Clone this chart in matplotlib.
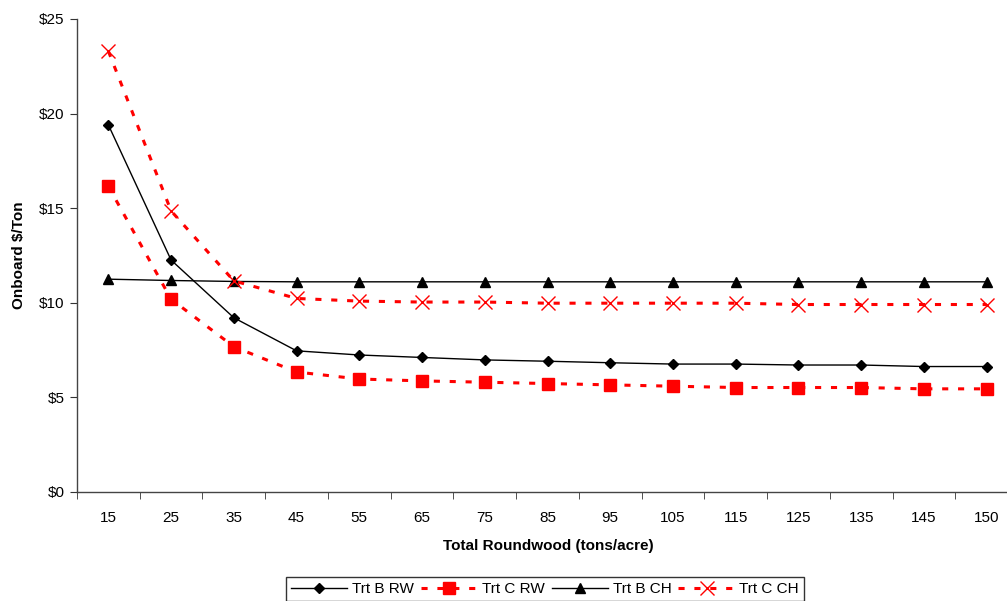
import matplotlib
matplotlib.use("Agg")
import matplotlib.pyplot as plt
import numpy as np

plt.rcParams['font.family'] = ['Liberation Sans', 'DejaVu Sans']

categories = ["15", "25", "35", "45", "55", "65", "75", "85", "95", "105", "115", "125", "135", "145", "150"]
trt_b_rw = [19.4, 12.25, 9.2, 7.45, 7.23, 7.1, 6.97, 6.9, 6.82, 6.75, 6.75, 6.7, 6.7, 6.62, 6.62]
trt_c_rw = [16.15, 10.18, 7.67, 6.33, 5.96, 5.86, 5.79, 5.72, 5.65, 5.58, 5.51, 5.51, 5.51, 5.44, 5.44]
trt_b_ch = [11.24, 11.17, 11.12, 11.1, 11.1, 11.1, 11.1, 11.1, 11.1, 11.1, 11.1, 11.1, 11.1, 11.1, 11.1]
trt_c_ch = [23.3, 14.85, 11.15, 10.22, 10.08, 10.03, 10.03, 9.97, 9.97, 9.97, 9.97, 9.9, 9.9, 9.9, 9.9]
y_ticks = [0, 5, 10, 15, 20, 25]
y_ticklabels = ["$0", "$5", "$10", "$15", "$20", "$25"]

fig = plt.figure(figsize=(10.07, 6.01), dpi=100)
ax = fig.add_axes([77/1007, 1-491.7/601, (1018-77)/1007, (491.7-19)/601])

x = np.arange(len(categories))
red = '#FF0000'
dash = (0, (2.0, 3.2))

l1, = ax.plot(x, trt_b_rw, color='black', lw=1.0, marker='D', ms=5.5, mfc='black', mec='black', label='Trt B RW')
l2, = ax.plot(x, trt_c_rw, color=red, lw=2.2, ls=dash, marker='s', ms=9, mfc=red, mec=red, label='Trt C RW')
l3, = ax.plot(x, trt_b_ch, color='black', lw=1.0, marker='^', ms=7, mfc='black', mec='black', label='Trt B CH')
l4, = ax.plot(x, trt_c_ch, color=red, lw=2.2, ls=dash, marker='x', ms=10, mew=1.0, mfc=red, mec=red, label='Trt C CH')

ax.set_xlim(-0.5, len(categories) - 0.5)
ax.set_ylim(0, 25)
ax.set_yticks(y_ticks)
ax.set_yticklabels(y_ticklabels, fontsize=11)
ax.set_xticks(x)
ax.set_xticklabels(categories, fontsize=11)
ax.set_xticks(np.arange(len(categories) + 1) - 0.5, minor=True)
ax.tick_params(axis='x', which='major', length=0, pad=14)
ax.tick_params(axis='x', which='minor', length=5, direction='out', color='#333333')
ax.tick_params(axis='y', length=5, direction='out', color='#333333', pad=4)

for s in ['top', 'right']:
    ax.spines[s].set_visible(False)
for s in ['left', 'bottom']:
    ax.spines[s].set_color('#444444')
    ax.spines[s].set_linewidth(1.0)

fig.text(548/1007, 1-546/601, "Total Roundwood (tons/acre)", ha='center', va='center', fontsize=11, fontweight='bold')
fig.text(19/1007, 1-255/601, "Onboard $/Ton", ha='center', va='center', rotation=90, fontsize=11, fontweight='bold')

leg = fig.legend(handles=[l1, l2, l3, l4], loc='center', bbox_to_anchor=(545/1007, 1-589/601), ncol=4,
                 frameon=True, fancybox=False, edgecolor='black', fontsize=11, numpoints=1,
                 handlelength=3.7, handletextpad=0.3, columnspacing=0.45, borderpad=0.3)
leg.get_frame().set_linewidth(1.0)

fig.savefig("out.png", dpi=100)
